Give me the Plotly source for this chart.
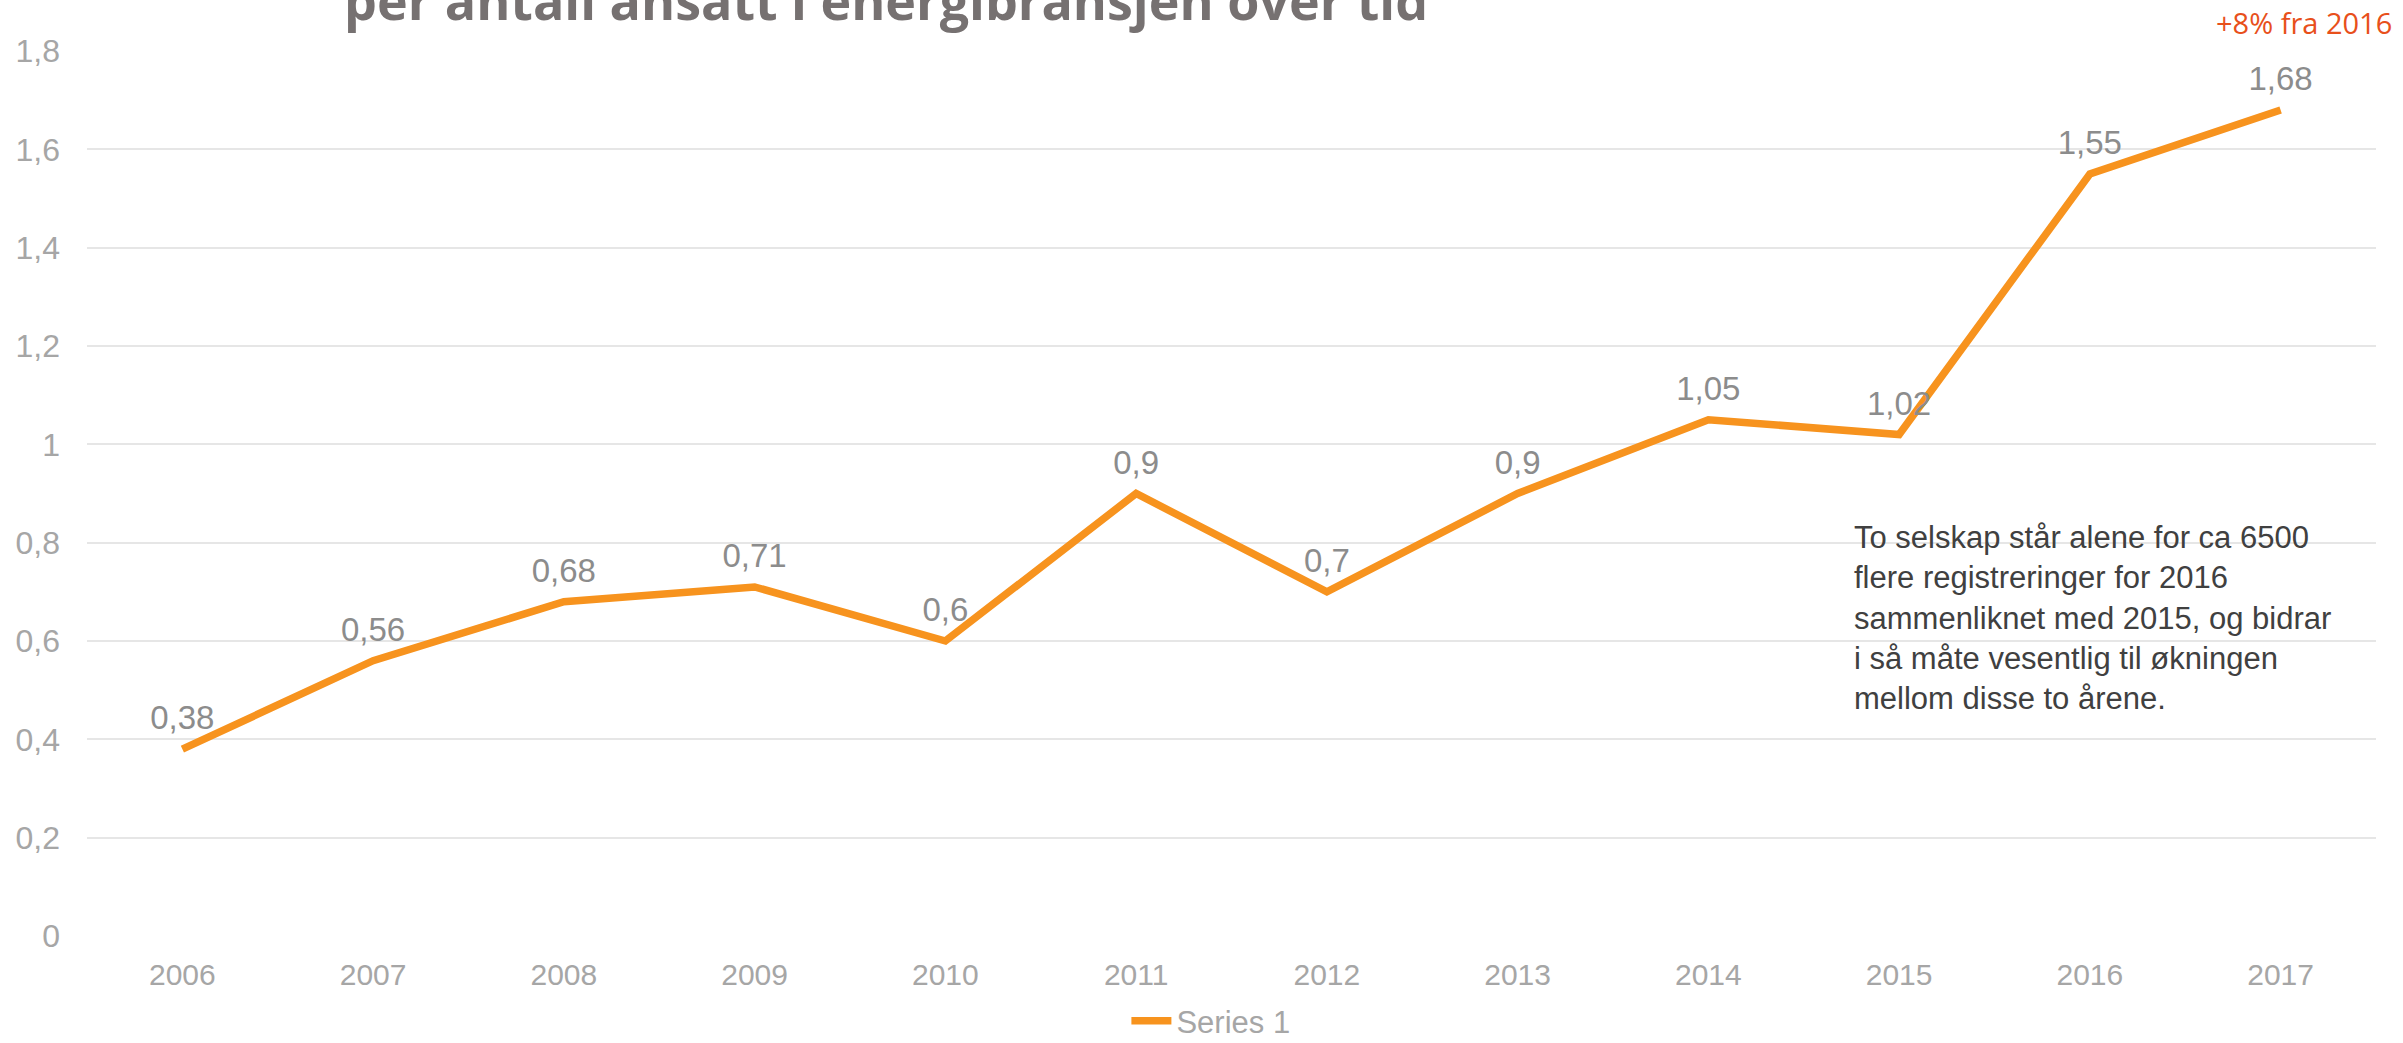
import plotly.graph_objects as go

years = ["2006", "2007", "2008", "2009", "2010", "2011", "2012", "2013", "2014", "2015", "2016", "2017"]
values = [0.38, 0.56, 0.68, 0.71, 0.60, 0.90, 0.70, 0.90, 1.05, 1.02, 1.55, 1.68]
labels = ["0,38", "0,56", "0,68", "0,71", "0,6", "0,9", "0,7", "0,9", "1,05", "1,02", "1,55", "1,68"]
y_ticks = [0, 0.2, 0.4, 0.6, 0.8, 1.0, 1.2, 1.4, 1.6, 1.8]
y_tick_text = ["0", "0,2", "0,4", "0,6", "0,8", "1", "1,2", "1,4", "1,6", "1,8"]

title_text = "per antall ansatt i energibransjen over tid"
note_text = ("To selskap står alene for ca 6500<br>flere registreringer for 2016<br>"
             "sammenliknet med 2015, og bidrar<br>i så måte vesentlig til økningen<br>"
             "mellom disse to årene.")
corner_text = "+8% fra 2016"

fig = go.Figure()
fig.add_trace(go.Scatter(
    x=years, y=values, mode="lines+markers+text", name="Series 1",
    text=labels, textposition="top center",
    textfont=dict(family="Liberation Sans, Arial", size=33, color="#8C8C8C"),
    line=dict(color="#F7931E", width=7.5),
    marker=dict(size=17, color="rgba(0,0,0,0)"),
    cliponaxis=False,
))

fig.update_layout(
    width=2403, height=1043,
    margin=dict(l=87, r=27, t=51, b=107),
    plot_bgcolor="white", paper_bgcolor="white",
    showlegend=True,
    legend=dict(orientation="h", x=0.491, xanchor="center", yref="container", y=0.021,
                yanchor="middle",
                font=dict(family="Liberation Sans, Arial", size=31, color="#A6A6A6"),
                itemwidth=40),
    xaxis=dict(type="category", range=[-0.5, 11.5], showgrid=False, showline=False,
               automargin=False, ticks="",
               tickfont=dict(family="Liberation Sans, Arial", size=30, color="#A6A6A6"),
               ticklabelstandoff=18),
    yaxis=dict(range=[0, 1.8], tickvals=y_ticks, ticktext=y_tick_text,
               showgrid=True, gridcolor="#E6E6E6", gridwidth=2, zeroline=False,
               showline=False, ticks="", automargin=False,
               tickfont=dict(family="Liberation Sans, Arial", size=32, color="#A6A6A6"),
               ticklabelstandoff=26),
)

fig.add_annotation(text="<b>" + title_text + "</b>", xref="paper", yref="paper",
                   x=0.349, y=1.058, xanchor="center", yanchor="middle", showarrow=False,
                   font=dict(family="Open Sans", size=52, color="#767171"))
fig.add_annotation(text=note_text, xref="paper", yref="paper", x=0.771, y=0.472,
                   xanchor="left", yanchor="top", align="left", showarrow=False,
                   font=dict(family="Liberation Sans, Arial", size=31, color="#404040"))
fig.add_annotation(text=corner_text, xref="paper", yref="paper", x=1.008, y=1.032,
                   xanchor="right", yanchor="middle", showarrow=False,
                   font=dict(family="Open Sans", size=29, color="#E8501B"))

fig.write_html("out.html", config={"displayModeBar": False},
               post_script="document.body.style.margin='0';document.body.style.overflow='hidden';")
